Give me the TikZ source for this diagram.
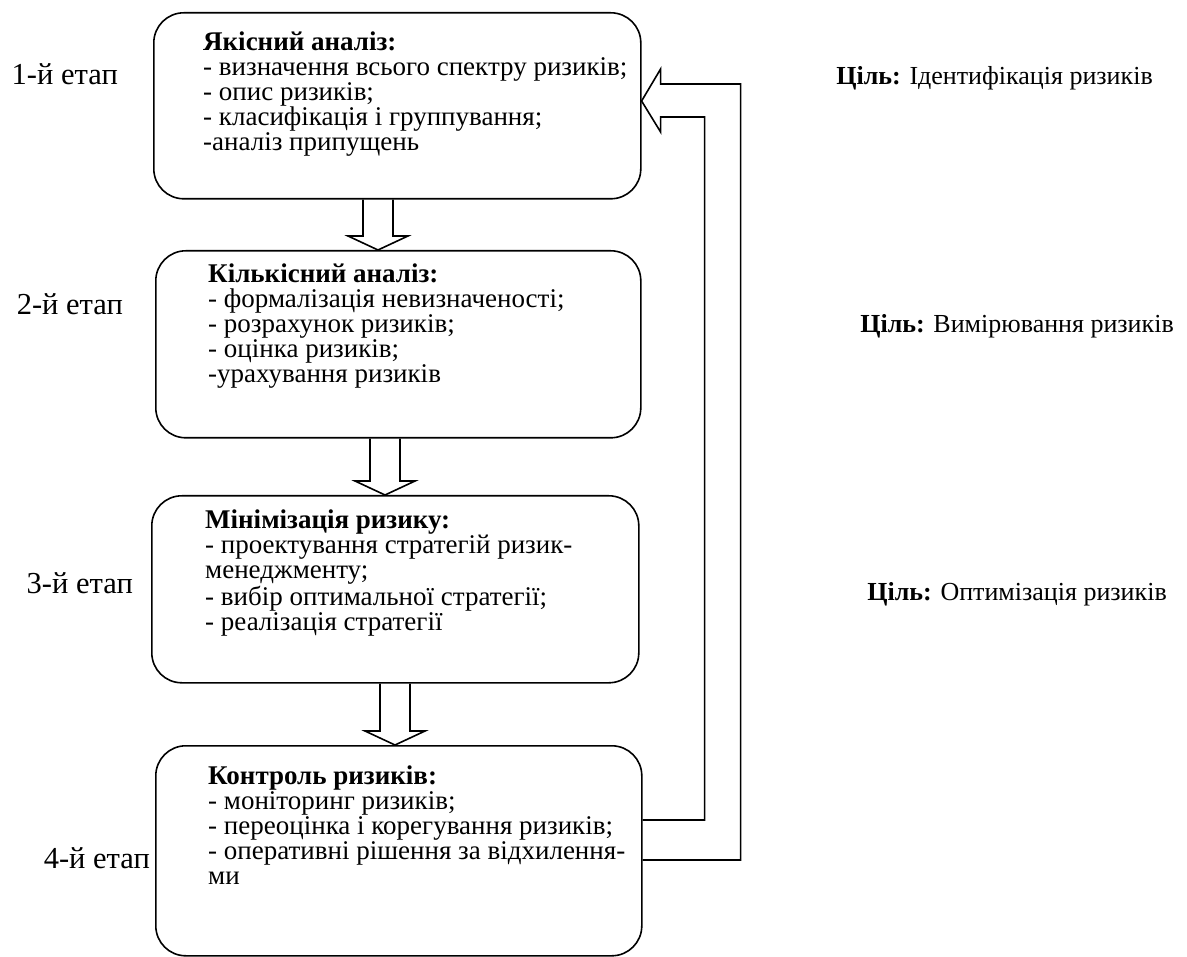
\documentclass[tikz,border=0pt]{standalone}
\usepackage{fontspec}
\setmainfont{Liberation Serif}
\usetikzlibrary{calc}
\tikzset{
  box/.style={draw, line width=1.6pt, rounded corners=30pt, inner sep=0pt, anchor=north west},
  blk/.style={draw, line width=1.6pt, line join=miter},
  boxtext/.style={anchor=north west, align=left, inner sep=0pt, font=\fontsize{27}{25}\selectfont},
  etap/.style={anchor=east, inner sep=0pt, font=\fontsize{30.5}{32}\selectfont},
  goal/.style={anchor=east, inner sep=0pt, font=\fontsize{26}{28}\selectfont}
}
\newcommand\blockdown[2]{%
  \draw[blk] ($(#1)+(-15,0)$) -- ($(#2)+(-15,-14)$) -- ($(#2)+(-30,-14)$) -- (#2)
    -- ($(#2)+(30,-14)$) -- ($(#2)+(15,-14)$) -- ($(#1)+(15,0)$);}
\begin{document}
\begin{tikzpicture}[x=1pt,y=-1pt]
\useasboundingbox (0,0) rectangle (1187,957);
% boxes
\node[box, minimum width=487pt, minimum height=186pt] (b1) at (153,12) {};
\node[box, minimum width=485pt, minimum height=187pt] (b2) at (155,250) {};
\node[box, minimum width=487pt, minimum height=187pt] (b3) at (151,495) {};
\node[box, minimum width=486pt, minimum height=210pt] (b4) at (155,745) {};
% box texts
\node[boxtext] (t1) at (203,32) {\textbf{Якісний аналіз:}\\- визначення всього спектру ризиків;\\- опис ризиків;\\- класифікація і группування;\\-аналіз припущень};
\node[boxtext] (t2) at (208,264) {\textbf{Кількісний аналіз:}\\- формалізація невизначеності;\\- розрахунок ризиків;\\- оцінка ризиків;\\-урахування ризиків};
\node[boxtext] (t3) at (205,510) {\textbf{Мінімізація ризику:}\\- проектування стратегій ризик-\\менеджменту;\\- вибір оптимальної стратегії;\\- реалізація стратегії};
\node[boxtext] (t4) at (208,766) {\textbf{Контроль ризиків:}\\- моніторинг ризиків;\\- переоцінка і корегування ризиків;\\- оперативні рішення за відхилення-\\ми};
% stage labels
\node[etap] (e1) at (118,74) {1-й етап};
\node[etap] (e2) at (123,304) {2-й етап};
\node[etap] (e3) at (133,583) {3-й етап};
\node[etap] (e4) at (150,858) {4-й етап};
% goals
\node[goal] (g1) at (1153,78) {\textbf{Ціль:} Ідентифікація ризиків};
\node[goal] (g2) at (1174,326) {\textbf{Ціль:} Вимірювання ризиків};
\node[goal] (g3) at (1167,594) {\textbf{Ціль:} Оптимізація ризиків};
% down block arrows
\coordinate (a1s) at ($(b1.south west)+(225,0)$);
\coordinate (a1e) at ($(b2.north west)+(223,0)$);
\blockdown{a1s}{a1e}
\coordinate (a2s) at ($(b2.south west)+(230,0)$);
\coordinate (a2e) at ($(b3.north west)+(234,0)$);
\blockdown{a2s}{a2e}
\coordinate (a3s) at ($(b3.south west)+(244,0)$);
\coordinate (a3e) at ($(b4.north west)+(240,0)$);
\blockdown{a3s}{a3e}
% feedback arrow
\coordinate (f1) at ($(b4.north east)+(0,75)$);
\coordinate (f2) at ($(b4.north east)+(0,115)$);
\coordinate (tip) at ($(b1.north east)+(0,89)$);
\draw[blk] (f1) -- ++(62,0) |- ($(tip)+(19,16)$) -- ++(0,15) -- (tip) -- ++(19,-32) -- ++(0,15) -| ($(f2)+(98,0)$) -- (f2);
\end{tikzpicture}
\end{document}
